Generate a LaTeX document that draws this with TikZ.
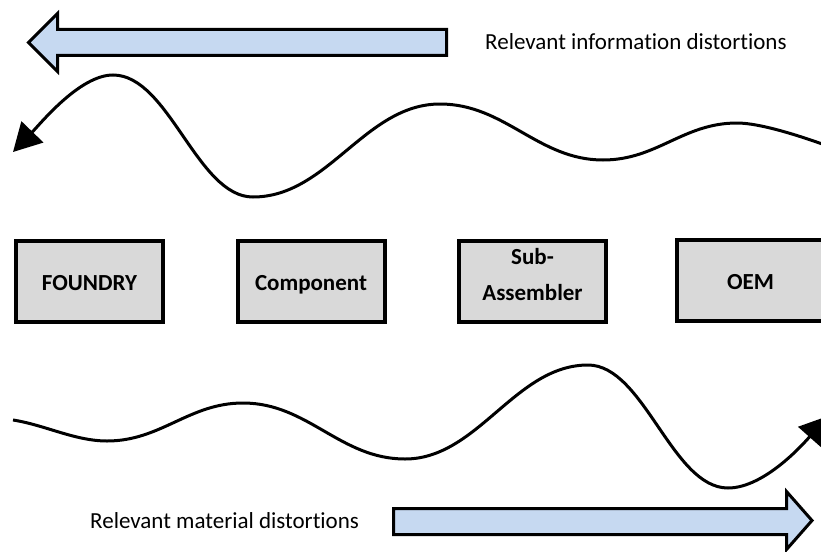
\documentclass[tikz,border=0pt]{standalone}
\usepackage{fontspec}
\setmainfont{Carlito}[Ligatures=NoCommon]
\usetikzlibrary{arrows.meta}
\definecolor{stageGray}{HTML}{D9D9D9}
\definecolor{flowBlue}{HTML}{C6D9F1}

\begin{document}
\begin{tikzpicture}[x=1pt,y=-1pt,
  stage/.style={draw=black, line width=4pt, fill=stageGray,
    minimum width=147pt, minimum height=81pt, inner sep=0pt,
    font=\fontsize{23}{28}\selectfont\bfseries,
    text height=18.8pt, text depth=0pt},
  stagetext/.style={inner sep=0pt, font=\fontsize{23}{28}\selectfont\bfseries},
  wave/.style={line width=3pt, -{Triangle[length=28pt,width=30pt]}},
  bigarrow/.style={draw=black, line width=3pt, fill=flowBlue, line join=miter},
  caption/.style={font=\fontsize{23}{26}\selectfont, inner sep=0pt}]

\useasboundingbox (0,0) rectangle (821,551);

% supply-chain stages
\node[stage] (foundry)   at (89.5,281.5)  {FOUNDRY};
\node[stage] (component) at (311,281.5)   {Component};
\node[stage] (subasm)    at (532.5,281.5) {};
\node[stagetext, anchor=base] (subasm-a) at (532.5,264) {Sub-};
\node[stagetext, anchor=base] (subasm-b) at (532.5,300) {Assembler};
\node[stage] (oem)       at (750.5,280)   {OEM};

% block arrows: information flows upstream, material downstream
\draw[bigarrow] (446.5,29.5) -- (57.5,29.5) -- (57.5,13.5) -- (28.5,42.5)
  -- (57.5,71.5) -- (57.5,55.5) -- (446.5,55.5) -- cycle;
\draw[bigarrow] (393.5,508.5) -- (786.5,508.5) -- (786.5,491.5) -- (812,520.5)
  -- (786.5,549.5) -- (786.5,534.5) -- (393.5,534.5) -- cycle;

\node[caption, anchor=base west] (info)     at (485,50)  {Relevant information distortions};
\node[caption, anchor=base west] (material) at (90,528)  {Relevant material distortions};

% distortion waves
\draw[wave] (825,145) .. controls (800,136) and (760,123) .. (737,123)
  .. controls (683,123) and (657,160) .. (603,160)
  .. controls (538,160) and (505,104) .. (440,104)
  .. controls (365,104) and (328,197) .. (253,197)
  .. controls (197,197) and (169,75) .. (113,75)
  .. controls (80,75) and (41,123) .. (13,152);

\draw[wave] (13,420) .. controls (45,425) and (75,441) .. (107,441)
  .. controls (161,441) and (189,403) .. (243,403)
  .. controls (308,403) and (340,459) .. (405,459)
  .. controls (478,459) and (515,365) .. (588,365)
  .. controls (644,365) and (672,488) .. (728,488)
  .. controls (765,488) and (805,442) .. (828,416);
\end{tikzpicture}
\end{document}
